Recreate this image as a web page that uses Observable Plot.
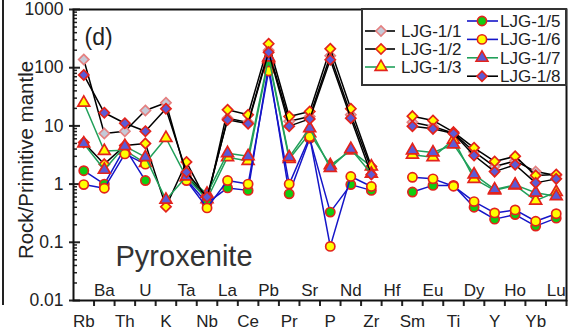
<!DOCTYPE html>
<html>
<head>
<meta charset="utf-8">
<script src="https://cdn.jsdelivr.net/npm/d3@7"></script>
<script src="https://cdn.jsdelivr.net/npm/@observablehq/plot@0.6"></script>
<style>
  html, body { margin: 0; padding: 0; background: #fff; }
  #wrap { position: relative; width: 574px; height: 334px; overflow: hidden;
          font-family: "Liberation Sans", Arial, sans-serif; }
  #wrap > svg { position: absolute; left: 0; top: 0; }
  #edge { position: absolute; left: 0; top: 0; width: 2px; height: 305px;
          border-right: 2px solid #222; }
</style>
</head>
<body>
<div id="wrap"><div id="edge"></div></div>
<script>
// Trace elements, in spider-diagram order (Hf has no analyses)
const elements = ["Rb","Ba","Th","U","K","Ta","Nb","La","Ce","Pb","Pr","Sr",
                  "P","Nd","Zr","Hf","Sm","Eu","Ti","Dy","Y","Ho","Yb","Lu"];

// Primitive-mantle normalised concentrations per sample
const ljg1_1 = [138, 7.4, 8.1, 18.4, 25, 1.4, 0.55, 13.5, 11.5, 200, 12, 14.5, 160, 15.5, 1.8, null, 11.6, 9.8, 7.5, 3.6, 2.0, 2.5, 1.64, 1.4];
const ljg1_2 = [5.2, 2.2, 4.6, 5.0, 0.41, 2.4, 0.5, 18.9, 15.5, 258, 14.5, 17.7, 211, 19.7, 2.0, null, 14.7, 12.4, 7.8, 4.2, 2.45, 3.0, 1.41, 1.46];
const ljg1_3 = [25, 3.7, 3.8, 2.3, 6.2, 1.3, 0.55, 2.9, 2.5, 140, 2.7, 7.5, 2.1, 3.8, 2.0, null, 3.2, 2.9, 5.8, 1.23, 0.78, 0.95, 0.52, 0.73];
const ljg1_5 = [1.7, 1.0, 4.2, 1.15, null, 1.2, 0.47, 0.86, 0.78, 110, 0.68, 6.1, 0.33, 0.98, 0.78, null, 0.73, 0.95, 0.95, 0.4, 0.25, 0.30, 0.19, 0.26];
const ljg1_6 = [0.98, 0.85, 3.3, 2.2, null, 1.15, 0.39, 1.15, 1.0, 88, 1.0, 6.5, 0.085, 1.35, 0.91, null, 1.31, 1.23, 0.92, 0.5, 0.32, 0.36, 0.23, 0.31];
const ljg1_7 = [5.0, 1.76, 4.5, 2.9, 0.54, 1.35, 0.68, 3.4, 3.0, 150, 2.9, 9.1, 1.9, 4.0, 1.5, null, 3.8, 3.5, 4.8, 1.46, 0.81, 0.97, 0.71, 0.62];
const ljg1_8 = [75, 16.8, 11.1, 8.1, 19.7, 1.6, 0.6, 12.7, 10.9, 185, 9.9, 13.2, 137, 13.6, 1.46, null, 9.9, 8.9, 7.4, 3.1, 1.64, 2.15, 1.05, 1.23];

const sampleNames = ["LJG-1/1","LJG-1/2","LJG-1/3","LJG-1/5","LJG-1/6","LJG-1/7","LJG-1/8"];
const sampleValues = [ljg1_1, ljg1_2, ljg1_3, ljg1_5, ljg1_6, ljg1_7, ljg1_8];

const yTickValues = [0.01, 0.1, 1, 10, 100, 1000];
const yTickLabels = ["0.01", "0.1", "1", "10", "100", "1000"];

// Drawing styles for each sample
const RED = "#e3231c";
const styles = {
  "LJG-1/1": {line: "#000", symbol: "diamond2", fill: "#c5cad8", stroke: "#e58080", r: 4.6},
  "LJG-1/2": {line: "#000", symbol: "diamond2", fill: "#ffff00", stroke: RED, r: 4.6},
  "LJG-1/3": {line: "#21a05a", symbol: "triangle", fill: "#ffff00", stroke: RED, r: 4.4},
  "LJG-1/5": {line: "#1515c8", symbol: "circle", fill: "#11cc11", stroke: RED, r: 4.6},
  "LJG-1/6": {line: "#1515c8", symbol: "circle", fill: "#ffff00", stroke: RED, r: 4.6},
  "LJG-1/7": {line: "#21a05a", symbol: "triangle", fill: "#5b5bd6", stroke: RED, r: 4.4},
  "LJG-1/8": {line: "#000", symbol: "diamond2", fill: "#5b5bd6", stroke: RED, r: 4.6}
};

const rows = sampleNames.map((name, s) =>
  sampleValues[s].map((v, i) => ({name, i, element: elements[i], value: v == null ? NaN : v})));

const even = d3.range(0, elements.length, 2);
const odd = d3.range(1, elements.length, 2);
const halves = d3.range(0, elements.length).map(i => i + 0.5);
const minors = [];
for (let e = -2; e < 3; e++) for (let k = 2; k <= 9; k++) minors.push(k * Math.pow(10, e));

const font = {fontFamily: "'Liberation Sans', Arial, sans-serif", fontSize: 17};
const yLabel = d => yTickLabels[yTickValues.findIndex(v => Math.abs(v - d) < v * 1e-6)] ?? "";

const sampleMarks = rows.flatMap((data, s) => {
  const st = styles[sampleNames[s]];
  return [
    Plot.line(data, {x: "i", y: "value", stroke: st.line, strokeWidth: 1.5}),
    Plot.dot(data, {x: "i", y: "value", symbol: () => st.symbol, r: st.r,
                    fill: st.fill, stroke: st.stroke, strokeWidth: 1.7})
  ];
});

const chart = Plot.plot({
  width: 574,
  height: 334,
  marginLeft: 73,
  marginRight: 8,
  marginTop: 9,
  marginBottom: 34,
  style: {...font, color: "#222", background: "transparent", overflow: "visible"},
  x: {type: "linear", domain: [-0.5, elements.length - 0.5]},
  y: {type: "log", domain: [0.01, 1000]},
  marks: [
    // y axis: labels, inward major and minor ticks
    Plot.axisY({ticks: yTickValues, tickSize: 0, tickPadding: 10,
                tickFormat: yLabel, label: null, fontSize: 17.5}),
    Plot.axisY({ticks: yTickValues, tickSize: -7, tickFormat: () => "", label: null, strokeWidth: 2}),
    Plot.axisY({ticks: yTickValues, tickSize: 4, tickFormat: () => "", label: null, strokeWidth: 2}),
    Plot.axisY({ticks: minors, tickSize: -4, tickFormat: () => "", label: null, strokeWidth: 1.5}),
    // x axis: ticks between elements, labels alternating below and above the axis
    Plot.axisX({ticks: halves, tickSize: 6, tickFormat: () => "", label: null, strokeWidth: 2}),
    Plot.axisX({ticks: even, tickSize: 0, tickPadding: 14, tickFormat: i => elements[i],
                label: null, fontSize: 17}),
    Plot.axisX({ticks: odd, tickSize: 0, tickPadding: 14, tickFormat: i => elements[i],
                label: null, fontSize: 17, dy: -31}),
    Plot.text(["Rock/Primitive mantle"], {frameAnchor: "left", textAnchor: "middle", rotate: -90,
                dx: -47, dy: 5, fontSize: 20.5, fill: "#222"}),
    Plot.text(["(d)"], {frameAnchor: "top-left", dx: 11, dy: 19, textAnchor: "start",
                fontSize: 23, fill: "#222"}),
    Plot.text(["Pyroxenite"], {frameAnchor: "bottom-left", dx: 42, dy: -35, textAnchor: "start",
                fontSize: 29, fill: "#333"}),
    ...sampleMarks,
    Plot.frame({stroke: "#111", strokeWidth: 2})
  ]
});

const wrap = document.getElementById("wrap");
wrap.appendChild(chart);

// Legend box in the upper-right corner of the frame
const leg = d3.select(wrap).append("svg")
  .attr("width", 574).attr("height", 334)
  .style("position", "absolute").style("left", "0px").style("top", "0px");
leg.append("rect").attr("x", 362).attr("y", 9).attr("width", 204).attr("height", 76)
  .attr("fill", "#fff").attr("stroke", "#333").attr("stroke-width", 2);

const symbolType = {diamond2: d3.symbolDiamond2, triangle: d3.symbolTriangle, circle: d3.symbolCircle};
const legendCols = [
  {names: sampleNames.slice(0, 3), x0: 365, x1: 395, xm: 381, tx: 401, y0: 31, dy: 18},
  {names: sampleNames.slice(3), x0: 467, x1: 498, xm: 482, tx: 500, y0: 21, dy: 18.4}
];
for (const col of legendCols) {
  col.names.forEach((name, k) => {
    const st = styles[name];
    const y = col.y0 + k * col.dy;
    leg.append("line").attr("x1", col.x0).attr("x2", col.x1).attr("y1", y).attr("y2", y)
      .attr("stroke", st.line).attr("stroke-width", 1.6);
    leg.append("path")
      .attr("d", d3.symbol(symbolType[st.symbol], Math.PI * st.r * st.r)())
      .attr("transform", `translate(${col.xm},${y})`)
      .attr("fill", st.fill).attr("stroke", st.stroke).attr("stroke-width", 1.6);
    leg.append("text").attr("x", col.tx).attr("y", y).attr("dy", "0.35em")
      .attr("font-family", "'Liberation Sans', Arial, sans-serif").attr("font-size", 17)
      .attr("fill", "#222").text(name);
  });
}
</script>
</body>
</html>
